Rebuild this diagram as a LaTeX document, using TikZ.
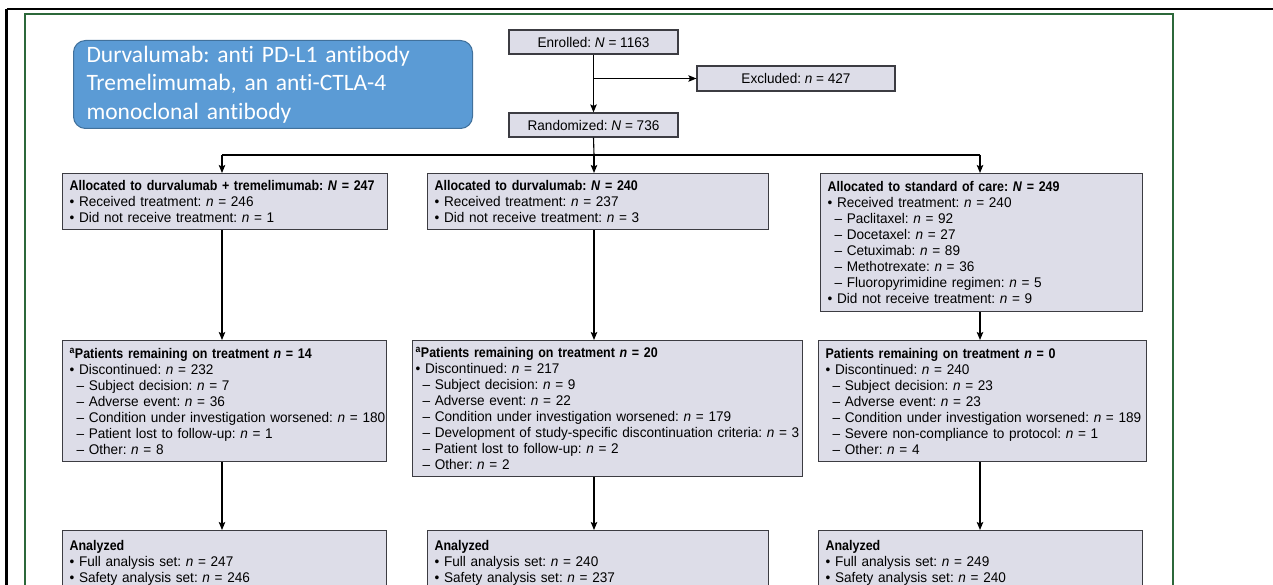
\documentclass[tikz,border=0pt]{standalone}
\usepackage{fontspec}
\setmainfont{Liberation Sans}[FakeStretch=0.97,
  BoldFeatures={FakeStretch=0.89},BoldItalicFeatures={FakeStretch=0.89}]
\newfontfamily\calibri{Carlito}[Ligatures={NoCommon}]
\usetikzlibrary{arrows.meta}
\definecolor{boxfill}{RGB}{221,221,232}
\definecolor{boxborder}{RGB}{60,60,66}
\definecolor{frameGreen}{RGB}{44,104,58}
\definecolor{noteBlue}{RGB}{91,155,213}
\definecolor{noteBorder}{RGB}{65,113,156}
\newcommand\NN{\textit{N}}
\newcommand\nn{\textit{n}}
\newcommand\BL[1]{\mbox{\textbullet\ #1}}
\newcommand\SL[1]{\mbox{\hspace{7pt}– #1}}
\newcommand\HL[1]{\mbox{\textbf{#1}}}
\frenchspacing
\begin{document}
\frenchspacing
\begin{tikzpicture}[x=1pt,y=-1pt,
  flowbox/.style={draw=boxborder, fill=boxfill, line width=1.2pt, anchor=north west,
    inner xsep=7pt, inner ysep=3pt, align=left, font=\fontsize{14}{16}\selectfont\frenchspacing},
  smallbox/.style={draw=boxborder, fill=boxfill, line width=1.2pt,
    inner sep=0pt, align=center, font=\fontsize{14}{16}\selectfont\frenchspacing},
  arr/.style={line width=1.1pt, -{Stealth[length=8pt,width=6.5pt,inset=1.5pt]}},
  plain/.style={line width=1.1pt}]
\useasboundingbox (0,0) rectangle (1273,585);
% outer frames
\draw[line width=2.2pt] (6.5,9) -- (1273,9);
\draw[line width=2.2pt] (6.5,9) -- (6.5,585);
\draw[frameGreen, line width=2pt] (25,590) -- (25,14.5) -- (1173,14.5) -- (1173,590);
% note
\node[draw=noteBorder, fill=noteBlue, line width=1pt, rounded corners=12pt,
  anchor=north west, minimum width=399pt, minimum height=88pt, inner xsep=13pt,
  text=white, align=left, text width=373pt,
  font=\calibri\fontsize{23.5}{28.5}\selectfont\frenchspacing] (note) at (73,40)
  {Durvalumab: anti PD-L1 antibody\\Tremelimumab, an anti-CTLA-4\\monoclonal antibody};
% top boxes
\node[smallbox, minimum width=169pt, minimum height=24pt] (enr) at (593.5,42) {Enrolled: \NN{} = 1163};
\node[smallbox, minimum width=198pt, minimum height=25pt] (exc) at (796,78.5) {Excluded: \nn{} = 427};
\node[smallbox, minimum width=169pt, minimum height=24pt] (rand) at (593.5,125) {Randomized: \NN{} = 736};
% row 1
\node[flowbox, text width=311pt, minimum height=56pt] (a1) at (62,173)
 {\HL{Allocated to durvalumab + tremelimumab: \NN{} = 247}\\
  \BL{Received treatment: \nn{} = 246}\\
  \BL{Did not receive treatment: \nn{} = 1}};
\node[flowbox, text width=327pt, minimum height=56pt] (a2) at (427,173)
 {\HL{Allocated to durvalumab: \NN{} = 240}\\
  \BL{Received treatment: \nn{} = 237}\\
  \BL{Did not receive treatment: \nn{} = 3}};
\node[flowbox, text width=308pt, minimum height=138pt] (a3) at (820,173)
 {\HL{Allocated to standard of care: \NN{} = 249}\\
  \BL{Received treatment: \nn{} = 240}\\
  \SL{Paclitaxel: \nn{} = 92}\\
  \SL{Docetaxel: \nn{} = 27}\\
  \SL{Cetuximab: \nn{} = 89}\\
  \SL{Methotrexate: \nn{} = 36}\\
  \SL{Fluoropyrimidine regimen: \nn{} = 5}\\
  \BL{Did not receive treatment: \nn{} = 9}};
% row 2
\node[flowbox, text width=310pt, minimum height=121pt] (r1) at (62,340)
 {\HL{\textsuperscript{a}Patients remaining on treatment \nn{} = 14}\\
  \BL{Discontinued: \nn{} = 232}\\
  \SL{Subject decision: \nn{} = 7}\\
  \SL{Adverse event: \nn{} = 36}\\
  \SL{Condition under investigation worsened: \nn{} = 180}\\
  \SL{Patient lost to follow-up: \nn{} = 1}\\
  \SL{Other: \nn{} = 8}};
\node[flowbox, inner xsep=3pt, text width=384pt, minimum height=136pt] (r2) at (412,340)
 {\HL{\textsuperscript{a}Patients remaining on treatment \nn{} = 20}\\
  \BL{Discontinued: \nn{} = 217}\\
  \SL{Subject decision: \nn{} = 9}\\
  \SL{Adverse event: \nn{} = 22}\\
  \SL{Condition under investigation worsened: \nn{} = 179}\\
  \SL{Development of study-specific discontinuation criteria: \nn{} = 3}\\
  \SL{Patient lost to follow-up: \nn{} = 2}\\
  \SL{Other: \nn{} = 2}};
\node[flowbox, text width=314pt, minimum height=121pt] (r3) at (818,340)
 {\HL{Patients remaining on treatment \nn{} = 0}\\
  \BL{Discontinued: \nn{} = 240}\\
  \SL{Subject decision: \nn{} = 23}\\
  \SL{Adverse event: \nn{} = 23}\\
  \SL{Condition under investigation worsened: \nn{} = 189}\\
  \SL{Severe non-compliance to protocol: \nn{} = 1}\\
  \SL{Other: \nn{} = 4}};
% row 3
\node[flowbox, text width=310pt, minimum height=64pt] (z1) at (62,530)
 {\HL{Analyzed}\\
  \BL{Full analysis set: \nn{} = 247}\\
  \BL{Safety analysis set: \nn{} = 246}};
\node[flowbox, text width=327pt, minimum height=64pt] (z2) at (427,530)
 {\HL{Analyzed}\\
  \BL{Full analysis set: \nn{} = 240}\\
  \BL{Safety analysis set: \nn{} = 237}};
\node[flowbox, text width=310pt, minimum height=64pt] (z3) at (818,530)
 {\HL{Analyzed}\\
  \BL{Full analysis set: \nn{} = 249}\\
  \BL{Safety analysis set: \nn{} = 240}};
% connectors
\coordinate (c1) at (222,155);
\coordinate (c2) at (594,155);
\coordinate (c3) at (980,155);
\draw[arr] (enr.south) -- (rand.north);
\draw[arr] (enr.south |- exc.west) -- (exc.west);
\draw[plain] (rand.south) -- (c2);
\draw[plain] (c1) -- (c3);
\draw[arr] (c1) -- (c1 |- a1.north);
\draw[arr] (c2) -- (c2 |- a2.north);
\draw[arr] (c3) -- (c3 |- a3.north);
\draw[arr] (c1 |- a1.south) -- (c1 |- r1.north);
\draw[arr] (c2 |- a2.south) -- (c2 |- r2.north);
\draw[arr] (c3 |- a3.south) -- (c3 |- r3.north);
\draw[arr] (c1 |- r1.south) -- (c1 |- z1.north);
\draw[arr] (c2 |- r2.south) -- (c2 |- z2.north);
\draw[arr] (c3 |- r3.south) -- (c3 |- z3.north);
\end{tikzpicture}
\end{document}
